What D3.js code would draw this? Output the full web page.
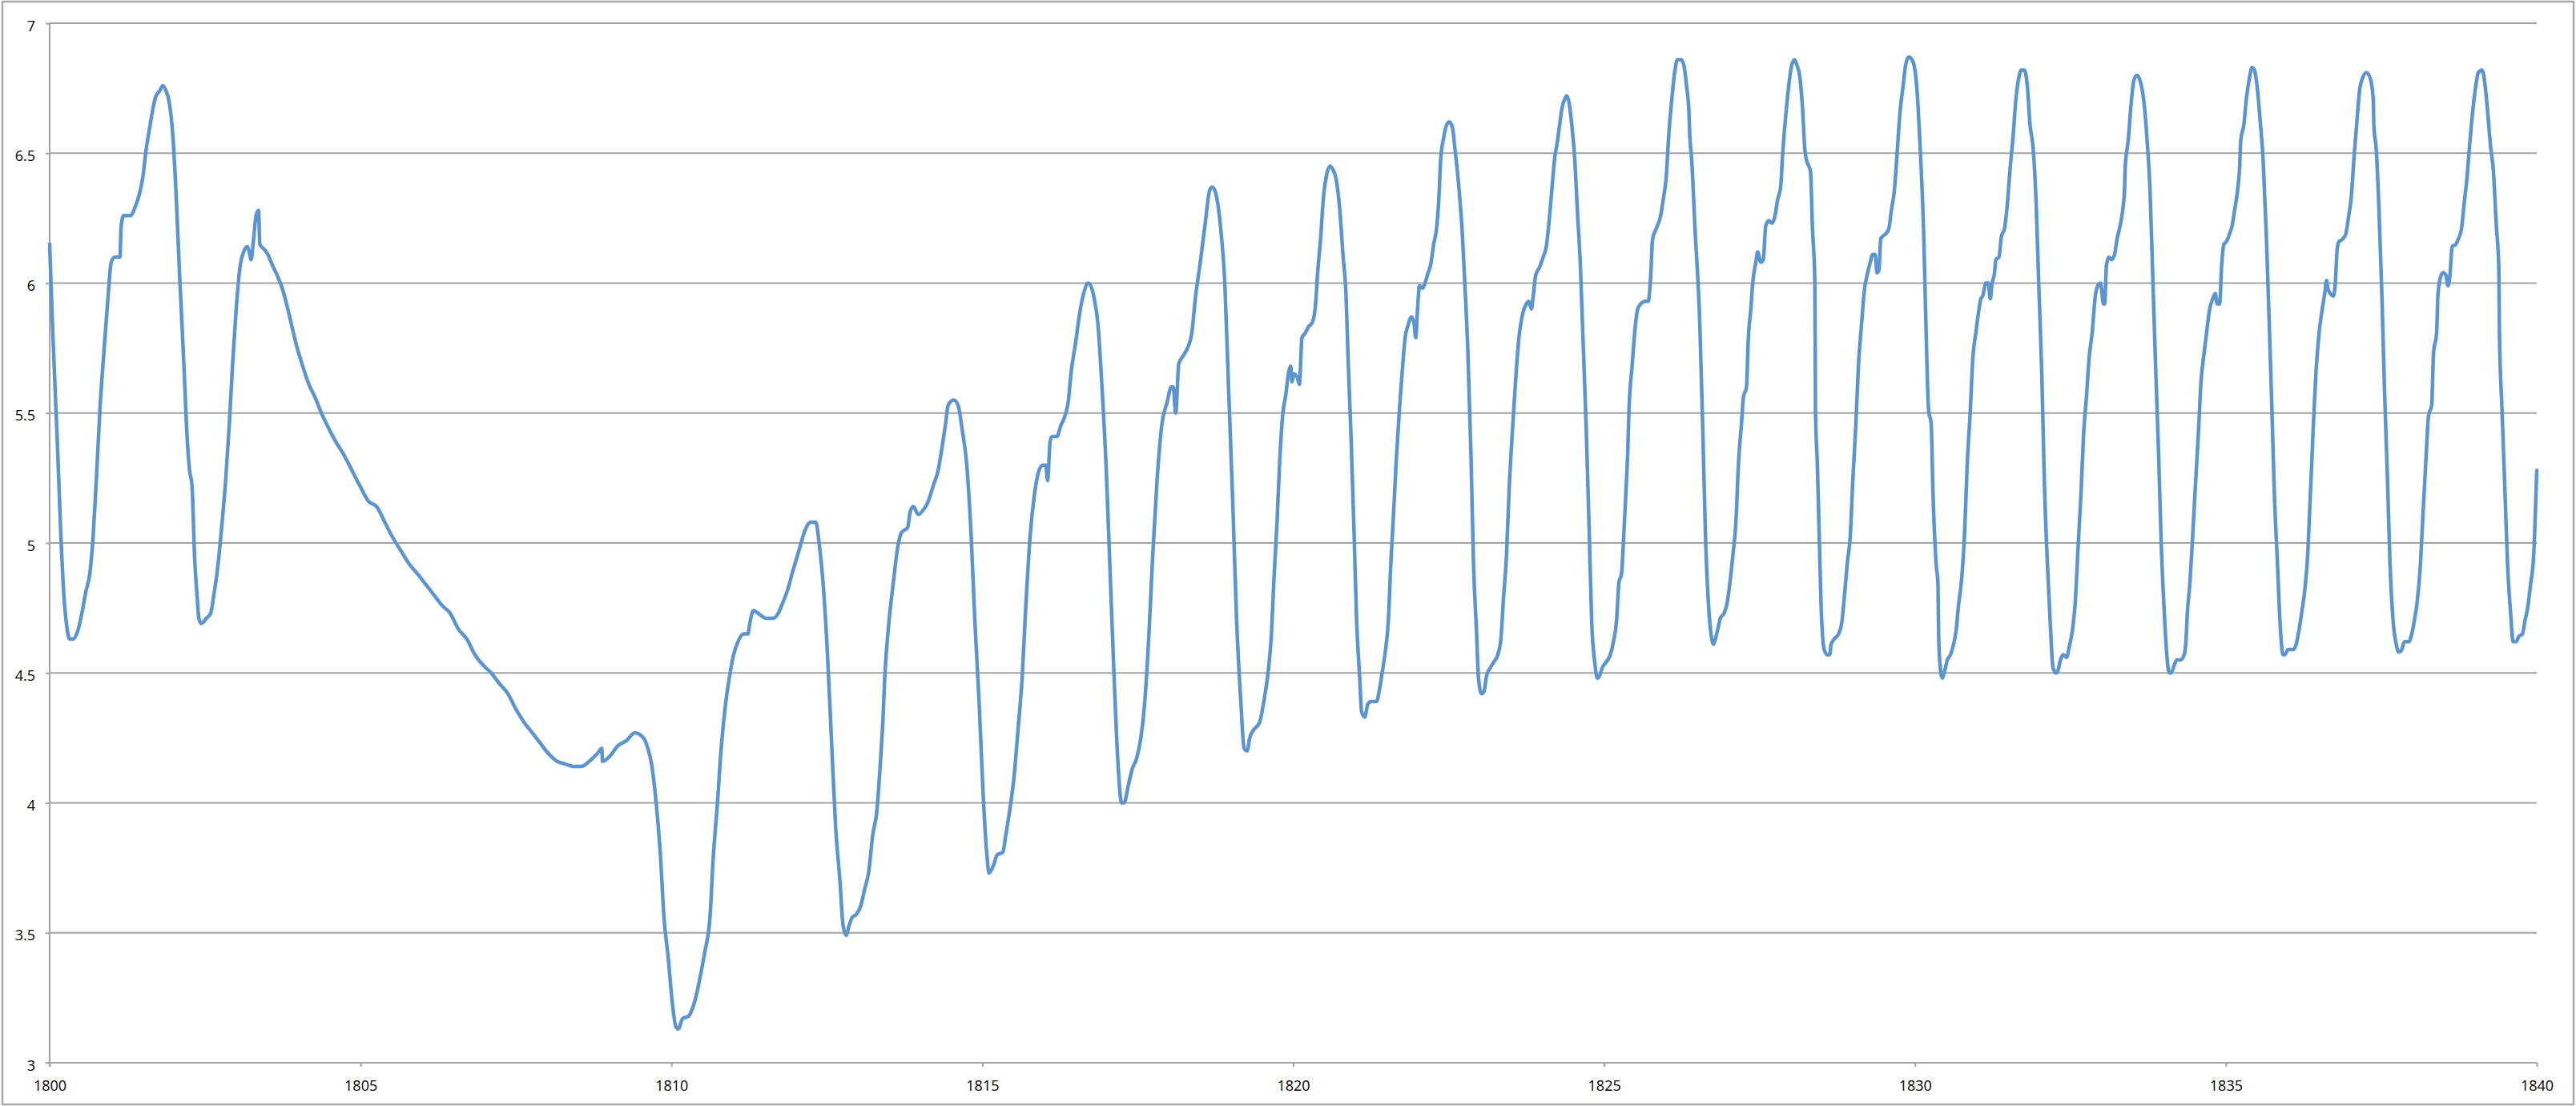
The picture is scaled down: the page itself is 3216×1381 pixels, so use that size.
<!DOCTYPE html>
<html>
<head>
<meta charset="utf-8">
<script src="https://cdn.jsdelivr.net/npm/d3@7"></script>
<style>
html, body { margin: 0; padding: 0; background: #fff; }
svg { display: block; }
.tick text { font-family: "Open Sans", "Liberation Sans", Arial, sans-serif; font-size: 18px; fill: #000; }
</style>
</head>
<body>
<svg id="chart" width="3216" height="1381"></svg>
<script>
// ---- data ----
const years = [
1800.00,1800.05,1800.12,1800.18,1800.24,1800.27,1800.32,1800.37,1800.45,1800.51,1800.58,1800.65,1800.70,1800.75,1800.81,1800.88,1800.94,1800.99,
1801.05,1801.13,1801.15,1801.19,1801.30,1801.37,1801.44,1801.50,1801.55,1801.61,1801.66,1801.71,1801.77,1801.82,1801.87,1801.92,1801.98,
1802.03,1802.09,1802.16,1802.21,1802.25,1802.29,1802.33,1802.37,1802.40,1802.44,1802.52,1802.59,1802.64,1802.70,1802.77,1802.83,1802.89,1802.94,
1803.00,1803.06,1803.12,1803.18,1803.21,1803.24,1803.28,1803.32,1803.36,1803.38,1803.45,1803.51,1803.58,1803.66,1803.74,1803.81,1803.89,1803.97,
1804.07,1804.17,1804.27,1804.37,1804.47,1804.60,1804.73,1804.86,1804.99,1805.13,1805.26,1805.39,1805.52,1805.65,1805.78,1805.92,
1806.05,1806.18,1806.31,1806.44,1806.57,1806.71,1806.84,1806.97,1807.10,1807.23,1807.37,1807.50,1807.63,1807.76,1807.89,
1808.02,1808.16,1808.29,1808.42,1808.55,1808.68,1808.81,1808.88,1808.89,1809.01,1809.14,1809.28,1809.41,
1809.55,1809.62,1809.68,1809.75,1809.82,1809.88,1809.95,1810.01,1810.07,1810.11,1810.18,1810.28,1810.34,1810.41,1810.47,1810.54,1810.62,1810.67,1810.74,1810.80,1810.87,1810.93,
1811.00,1811.07,1811.16,1811.23,1811.26,1811.32,1811.39,1811.53,1811.63,1811.72,1811.79,1811.87,1811.95,
1812.05,1812.15,1812.24,1812.32,1812.38,1812.45,1812.51,1812.58,1812.64,1812.71,1812.76,1812.81,1812.86,1812.91,1812.97,
1813.04,1813.11,1813.17,1813.24,1813.30,1813.37,1813.40,1813.43,1813.50,1813.57,1813.63,1813.70,1813.80,1813.84,1813.89,1813.97,
1814.06,1814.13,1814.21,1814.29,1814.36,1814.41,1814.45,1814.54,1814.61,1814.68,1814.75,1814.82,1814.88,1814.95,
1815.01,1815.07,1815.11,1815.18,1815.24,1815.33,1815.38,1815.44,1815.51,1815.57,1815.64,1815.70,1815.77,1815.84,1815.90,1815.97,
1816.02,1816.05,1816.09,1816.12,1816.20,1816.26,1816.33,1816.38,1816.43,1816.50,1816.57,1816.63,1816.70,1816.76,1816.80,1816.86,1816.92,1816.99,
1817.05,1817.12,1817.18,1817.24,1817.28,1817.35,1817.41,1817.48,1817.55,1817.61,1817.68,1817.74,1817.81,1817.89,1817.97,
1818.04,1818.07,1818.11,1818.16,1818.23,1818.30,1818.37,1818.43,1818.50,1818.58,1818.66,1818.70,1818.77,1818.83,1818.90,1818.96,
1819.03,1819.09,1819.16,1819.21,1819.26,1819.30,1819.36,1819.46,1819.52,
1819.60,1819.65,1819.69,1819.74,1819.78,1819.83,1819.88,1819.93,1819.96,1819.98,
1820.01,1820.06,1820.10,1820.11,1820.14,1820.20,1820.24,1820.31,1820.36,1820.39,1820.44,1820.49,1820.54,1820.59,1820.63,1820.69,1820.75,1820.80,1820.85,1820.88,1820.93,1820.98,
1821.02,1821.07,1821.10,1821.15,1821.20,1821.25,1821.34,1821.39,1821.43,1821.48,1821.53,1821.57,1821.62,1821.66,1821.71,1821.76,1821.80,1821.85,1821.90,1821.94,1821.97,
1822.00,1822.03,1822.08,1822.12,1822.17,1822.21,1822.26,1822.31,1822.35,1822.37,1822.42,1822.47,1822.51,1822.56,1822.60,1822.66,1822.72,1822.76,1822.81,1822.86,1822.90,1822.95,1822.98,
1823.03,1823.07,1823.11,1823.17,1823.22,1823.29,1823.34,1823.38,1823.43,1823.47,1823.52,1823.57,1823.63,1823.68,1823.75,1823.79,1823.83,1823.86,1823.90,1823.96,
1824.02,1824.07,1824.12,1824.16,1824.21,1824.24,1824.28,1824.32,1824.37,1824.40,1824.44,1824.48,1824.53,1824.57,1824.62,1824.66,1824.71,1824.76,1824.80,1824.85,1824.89,1824.93,1824.97,
1825.03,1825.10,1825.15,1825.20,1825.24,1825.28,1825.31,1825.35,1825.38,1825.40,1825.45,1825.50,1825.54,1825.59,1825.66,1825.71,1825.75,1825.78,1825.84,1825.91,1825.95,
1826.00,1826.04,1826.09,1826.14,1826.18,1826.24,1826.29,1826.33,1826.36,1826.38,1826.41,1826.46,
1826.54,1826.59,1826.63,1826.68,1826.72,1826.76,1826.79,1826.83,1826.87,1826.93,1826.98,
1827.02,1827.07,1827.12,1827.16,1827.21,1827.24,1827.29,1827.32,1827.36,1827.39,1827.44,1827.47,1827.52,1827.56,1827.60,1827.65,1827.70,1827.75,1827.79,1827.84,1827.87,1827.92,1827.97,
1828.01,1828.06,1828.10,1828.15,1828.19,1828.23,1828.26,1828.32,1828.35,1828.39,1828.40,1828.43,1828.46,1828.49,1828.54,1828.59,1828.63,1828.65,1828.70,1828.77,1828.82,1828.86,1828.91,1828.96,
1829.00,1829.05,1829.09,1829.14,1829.19,1829.23,1829.28,1829.32,1829.36,1829.39,1829.42,1829.45,1829.48,1829.53,1829.58,1829.62,1829.67,1829.71,1829.76,1829.81,1829.85,1829.90,1829.95,
1830.00,1830.05,1830.09,1830.14,1830.17,1830.22,1830.26,1830.29,1830.34,1830.37,1830.38,1830.40,1830.44,1830.47,1830.52,1830.57,1830.61,1830.66,1830.70,1830.75,1830.80,1830.84,1830.89,1830.93,1830.98,
1831.03,1831.06,1831.09,1831.14,1831.18,1831.21,1831.24,1831.28,1831.30,1831.35,1831.39,1831.44,1831.48,1831.53,1831.58,1831.62,1831.67,1831.71,1831.76,1831.81,1831.85,1831.90,1831.95,1831.99,
1832.04,1832.08,1832.13,1832.18,1832.22,1832.27,1832.30,1832.34,1832.38,1832.44,1832.48,1832.53,1832.58,1832.62,1832.67,1832.71,1832.76,1832.80,1832.85,1832.90,1832.94,1832.98,
1833.00,1833.03,1833.05,1833.08,1833.12,1833.16,1833.21,1833.25,1833.29,1833.34,1833.37,1833.38,1833.43,1833.48,1833.52,1833.57,1833.62,
1833.69,1833.73,1833.78,1833.82,1833.87,1833.92,1833.96,
1834.01,1834.05,1834.09,1834.12,1834.17,1834.21,1834.27,1834.33,1834.36,1834.38,1834.42,1834.46,1834.51,1834.56,1834.60,1834.65,1834.69,1834.74,1834.79,1834.83,1834.86,1834.90,1834.93,1834.97,
1835.01,1835.06,1835.10,1835.14,1835.19,1835.22,1835.24,1835.29,1835.33,1835.38,1835.42,1835.46,1835.51,1835.55,1835.60,1835.65,1835.69,1835.74,1835.78,1835.83,1835.87,1835.92,1835.95,
1836.00,1836.04,1836.09,1836.13,1836.18,1836.23,1836.27,1836.32,1836.35,1836.38,1836.41,1836.45,1836.50,1836.55,1836.59,1836.62,1836.64,1836.68,1836.73,1836.76,1836.79,1836.82,1836.88,1836.93,1836.97,
1837.02,1837.06,1837.11,1837.15,1837.20,1837.26,1837.32,1837.37,1837.38,1837.42,1837.46,1837.51,1837.55,1837.60,1837.64,1837.69,1837.74,1837.78,1837.83,1837.87,1837.94,1837.99,
1838.03,1838.08,1838.13,1838.17,1838.22,1838.26,1838.31,1838.34,1838.39,1838.41,1838.44,1838.49,1838.54,1838.57,1838.60,1838.64,1838.70,1838.74,1838.79,1838.83,1838.88,1838.92,1838.97,
1839.02,1839.06,1839.12,1839.17,1839.21,1839.26,1839.30,1839.35,1839.39,1839.40,1839.44,1839.49,1839.53,1839.58,1839.62,1839.67,1839.71,1839.77,1839.81,1839.86,1839.90,1839.95,
1840.00
];
const values = [
6.15,5.81,5.41,5.03,4.76,4.69,4.63,4.63,4.66,4.72,4.81,4.89,5.03,5.24,5.52,5.76,5.95,6.08,
6.10,6.10,6.22,6.26,6.26,6.29,6.34,6.41,6.51,6.60,6.67,6.72,6.74,6.76,6.74,6.70,6.57,
6.36,6.03,5.68,5.41,5.28,5.22,4.95,4.80,4.71,4.69,4.71,4.73,4.80,4.90,5.07,5.24,5.46,5.68,
5.90,6.06,6.12,6.14,6.12,6.09,6.17,6.26,6.28,6.15,6.13,6.11,6.07,6.03,5.98,5.92,5.84,5.76,
5.68,5.61,5.56,5.50,5.45,5.39,5.34,5.28,5.22,5.16,5.14,5.08,5.02,4.97,4.92,4.88,
4.84,4.80,4.76,4.73,4.67,4.63,4.57,4.53,4.50,4.46,4.42,4.36,4.31,4.27,4.23,
4.19,4.16,4.15,4.14,4.14,4.16,4.19,4.21,4.16,4.18,4.22,4.24,4.27,
4.25,4.21,4.15,4.01,3.81,3.56,3.40,3.24,3.14,3.13,3.17,3.18,3.21,3.27,3.34,3.43,3.56,3.78,4.00,4.21,4.38,4.48,
4.57,4.62,4.65,4.65,4.69,4.74,4.73,4.71,4.71,4.73,4.77,4.82,4.89,
4.97,5.05,5.08,5.08,4.99,4.81,4.57,4.21,3.91,3.70,3.53,3.49,3.53,3.56,3.57,
3.60,3.67,3.73,3.88,3.96,4.19,4.31,4.48,4.70,4.85,4.97,5.04,5.06,5.12,5.14,5.11,
5.13,5.16,5.22,5.28,5.38,5.46,5.53,5.55,5.53,5.43,5.30,5.03,4.70,4.38,
4.05,3.81,3.73,3.76,3.80,3.81,3.88,3.97,4.10,4.27,4.48,4.76,5.03,5.19,5.27,5.30,
5.30,5.24,5.39,5.41,5.41,5.45,5.49,5.54,5.66,5.77,5.89,5.96,6.00,5.98,5.94,5.84,5.62,5.30,
4.92,4.48,4.16,4.00,4.00,4.07,4.13,4.17,4.25,4.38,4.65,4.95,5.24,5.46,5.54,
5.60,5.60,5.50,5.69,5.72,5.75,5.81,5.95,6.07,6.22,6.36,6.37,6.33,6.22,6.00,5.60,
5.14,4.70,4.38,4.21,4.20,4.25,4.28,4.31,4.38,
4.51,4.65,4.86,5.08,5.30,5.49,5.57,5.66,5.68,5.62,
5.65,5.64,5.61,5.64,5.79,5.81,5.83,5.85,5.92,6.03,6.17,6.34,6.42,6.45,6.44,6.40,6.28,6.11,5.95,5.73,5.41,5.03,
4.70,4.48,4.35,4.33,4.38,4.39,4.39,4.44,4.50,4.58,4.70,4.92,5.14,5.33,5.52,5.68,5.79,5.84,5.87,5.85,5.79,
5.90,5.99,5.98,6.00,6.04,6.07,6.15,6.22,6.36,6.47,6.56,6.61,6.62,6.60,6.52,6.38,6.19,6.00,5.73,5.33,4.92,4.65,4.48,
4.42,4.43,4.49,4.52,4.54,4.57,4.63,4.78,4.95,5.19,5.41,5.60,5.79,5.87,5.92,5.93,5.90,5.95,6.03,6.06,
6.10,6.14,6.25,6.36,6.49,6.53,6.60,6.67,6.71,6.72,6.69,6.61,6.47,6.28,6.06,5.79,5.46,5.05,4.70,4.54,4.48,4.49,4.52,
4.54,4.57,4.62,4.70,4.85,4.88,5.00,5.19,5.35,5.51,5.68,5.83,5.90,5.92,5.93,5.93,6.03,6.17,6.21,6.26,6.32,
6.41,6.57,6.71,6.82,6.86,6.86,6.83,6.75,6.68,6.56,6.47,6.22,
5.84,5.41,5.03,4.76,4.65,4.61,4.63,4.67,4.71,4.73,4.77,
4.84,4.95,5.08,5.30,5.46,5.56,5.60,5.79,5.90,6.00,6.08,6.12,6.08,6.09,6.22,6.24,6.23,6.26,6.32,6.37,6.49,6.64,6.76,
6.83,6.86,6.84,6.79,6.68,6.51,6.47,6.43,6.22,6.00,5.51,5.30,5.03,4.76,4.59,4.57,4.57,4.61,4.63,4.65,4.69,4.78,4.92,5.03,
5.24,5.46,5.68,5.84,5.98,6.03,6.08,6.11,6.11,6.04,6.05,6.17,6.18,6.19,6.21,6.28,6.36,6.49,6.66,6.76,6.84,6.87,6.86,
6.82,6.68,6.49,6.19,5.90,5.51,5.46,5.19,4.92,4.84,4.65,4.54,4.48,4.50,4.55,4.57,4.60,4.66,4.76,4.86,5.05,5.30,5.51,5.71,5.81,
5.90,5.94,5.95,6.00,6.00,5.94,6.00,6.04,6.09,6.10,6.18,6.21,6.29,6.44,6.57,6.70,6.79,6.82,6.82,6.75,6.61,6.52,6.30,6.00,
5.65,5.24,4.92,4.67,4.52,4.50,4.51,4.55,4.57,4.56,4.60,4.66,4.78,4.97,5.19,5.41,5.57,5.71,5.81,5.95,5.99,6.00,
5.98,5.92,5.92,6.07,6.10,6.09,6.11,6.17,6.21,6.28,6.36,6.44,6.55,6.70,6.78,6.80,6.78,
6.68,6.56,6.36,6.06,5.68,5.33,5.00,
4.73,4.57,4.50,4.50,4.53,4.55,4.55,4.57,4.63,4.73,4.84,5.00,5.22,5.43,5.62,5.73,5.81,5.90,5.94,5.96,5.92,5.92,6.06,6.15,
6.16,6.19,6.22,6.28,6.36,6.44,6.55,6.61,6.71,6.79,6.83,6.82,6.74,6.63,6.47,6.19,5.90,5.52,5.19,4.92,4.70,4.57,4.57,
4.59,4.59,4.59,4.61,4.67,4.75,4.82,4.97,5.14,5.30,5.47,5.66,5.81,5.90,5.96,6.01,5.98,5.96,5.95,6.00,6.13,6.16,6.17,6.19,6.25,
6.34,6.48,6.63,6.74,6.79,6.81,6.79,6.71,6.61,6.51,6.30,5.95,5.60,5.24,4.92,4.70,4.61,4.58,4.59,4.62,4.62,4.65,
4.70,4.78,4.92,5.11,5.33,5.49,5.53,5.73,5.81,5.95,6.01,6.04,6.03,5.99,6.02,6.14,6.15,6.17,6.21,6.30,6.41,6.53,6.66,
6.76,6.81,6.82,6.76,6.66,6.52,6.44,6.22,6.06,5.81,5.52,5.19,4.92,4.73,4.62,4.62,4.64,4.65,4.70,4.76,4.84,4.95,
5.28
];
const xTicks = [1800, 1805, 1810, 1815, 1820, 1825, 1830, 1835, 1840];
const yTicks = [3, 3.5, 4, 4.5, 5, 5.5, 6, 6.5, 7];

// ---- layout ----
const W = 3216, H = 1381;
const mLeft = 62, mRight = 3167, mTop = 29, mBottom = 1327;
const gridColor = "#a3a3a3";
const lineColor = "#5b94cf";

const svg = d3.select("#chart");

// outer chart frame
svg.append("rect")
  .attr("x", 3).attr("y", 2)
  .attr("width", W - 6).attr("height", H - 4)
  .attr("fill", "#fff")
  .attr("stroke", "#a8a8a8").attr("stroke-width", 2.5);

const x = d3.scaleLinear().domain([1800, 1840]).range([mLeft, mRight]);
const y = d3.scaleLinear().domain([3, 7]).range([mBottom, mTop]);

// horizontal gridlines
svg.append("g").selectAll("line")
  .data(yTicks.filter(d => d !== 3))
  .join("line")
  .attr("x1", mLeft).attr("x2", mRight)
  .attr("y1", d => y(d)).attr("y2", d => y(d))
  .attr("stroke", gridColor).attr("stroke-width", 2);

// y axis
const yAxis = svg.append("g")
  .attr("transform", `translate(${mLeft},0)`)
  .call(d3.axisLeft(y).tickValues(yTicks).tickSize(5).tickPadding(13).tickFormat(d3.format("")));
yAxis.select(".domain").attr("stroke", gridColor).attr("stroke-width", 2)
  .attr("d", `M0,${mTop}V${mBottom + 5}`);
yAxis.selectAll(".tick line").attr("stroke", gridColor).attr("stroke-width", 2);
yAxis.selectAll(".tick text").attr("dy", "0.5em");

// x axis
const xAxis = svg.append("g")
  .attr("transform", `translate(0,${mBottom})`)
  .call(d3.axisBottom(x).tickValues(xTicks).tickSize(5).tickPadding(17).tickFormat(d3.format("d")));
xAxis.select(".domain").attr("stroke", gridColor).attr("stroke-width", 2)
  .attr("d", `M${mLeft - 5},0H${mRight}`);
xAxis.selectAll(".tick line").attr("stroke", gridColor).attr("stroke-width", 2);

// series line
const data = years.map((yr, i) => ({ yr, v: values[i] }));
const line = d3.line()
  .x(d => x(d.yr))
  .y(d => y(d.v))
  .curve(d3.curveMonotoneX);

svg.append("path")
  .datum(data)
  .attr("d", line)
  .attr("fill", "none")
  .attr("stroke", lineColor)
  .attr("stroke-width", 4.5)
  .attr("stroke-linejoin", "round")
  .attr("stroke-linecap", "round");
</script>
</body>
</html>
